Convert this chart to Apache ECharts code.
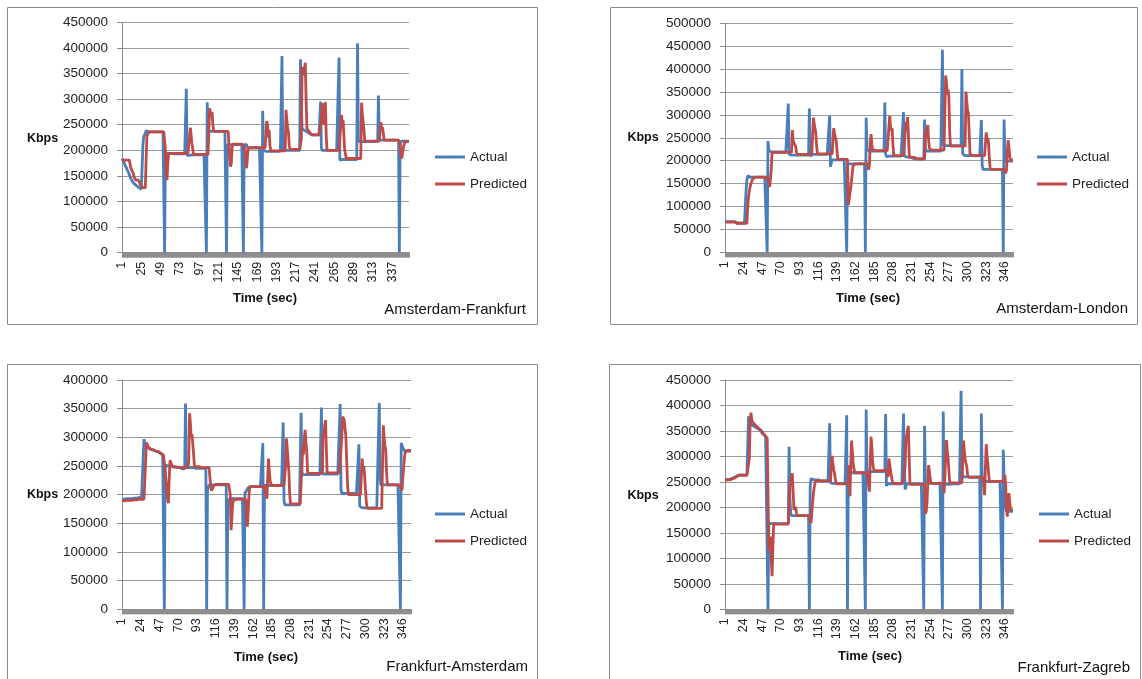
<!DOCTYPE html>
<html>
<head>
<meta charset="utf-8">
<script src="https://cdn.jsdelivr.net/npm/echarts@6/dist/echarts.min.js"></script>
<style>
html,body{margin:0;padding:0;background:#fff}
#chart{width:1142px;height:679px}
</style>
</head>
<body>
<div id="chart"></div>
<script>
// Throughput samples, one per second, in thousands of Kbps.

const amsFraActual = [
184,181,178,174,170,167,164,161,157,153,
149,145,142,139,137,135,133,132,131,130,
129,127,126,125,124,122,210,226,230,234,
238,240,236,236,236,236,236,236,236,236,
236,236,236,236,236,236,236,236,236,236,
236,236,236,0,195,194,194,194,194,194,
194,194,194,194,194,193,193,193,193,193,
193,193,193,193,193,193,193,193,193,193,
320,190,188,188,190,191,191,191,191,191,
191,191,191,191,191,191,191,191,191,191,
191,191,191,191,191,0,294,240,237,237,
237,237,237,237,237,237,237,237,237,237,
237,237,237,237,237,237,237,237,237,237,
0,211,211,211,211,211,211,211,211,211,
211,211,211,211,211,211,211,211,211,211,
211,0,211,211,211,211,205,205,205,205,
205,205,205,205,205,205,205,205,205,205,
205,205,205,205,0,277,200,198,198,198,
198,198,198,198,198,198,198,198,198,198,
198,198,198,198,198,198,198,198,198,384,
201,200,200,200,200,200,200,200,200,200,
200,200,200,200,200,200,200,200,200,200,
200,200,378,300,242,241,240,239,238,237,
236,235,234,233,232,231,230,230,230,230,
230,230,230,230,230,230,230,295,205,200,
200,200,200,200,200,200,200,200,200,200,
200,200,200,200,200,200,200,200,200,200,
381,181,182,182,182,182,182,182,182,182,
182,182,182,182,182,182,182,182,182,182,
182,182,182,409,218,217,217,217,217,217,
217,217,217,217,217,217,217,217,217,217,
217,217,217,217,217,217,217,217,217,307,
220,220,220,220,220,220,220,220,220,220,
220,220,220,220,220,220,220,220,220,220,
220,220,220,220,220,0,210,218,218,218,
218,218,218,218,218,218,218,218
];

const amsFraPredicted = [
181,181,181,181,181,181,181,181,181,181,
181,165,165,165,155,148,148,142,142,142,
142,142,137,132,132,132,127,127,127,127,
180,228,232,234,236,236,236,236,236,236,
236,236,236,236,236,236,236,236,236,236,
236,236,236,236,200,158,142,175,194,194,
194,194,194,194,194,194,194,194,194,194,
194,194,194,194,194,194,194,194,194,194,
194,194,194,194,194,244,230,213,213,192,
192,192,192,192,192,192,192,192,192,192,
192,192,192,192,192,192,192,192,192,282,
272,266,275,250,237,237,237,237,237,237,
237,237,237,237,237,237,237,237,237,237,
237,237,237,210,185,168,175,205,212,212,
212,212,212,212,212,212,212,212,212,212,
212,212,212,200,178,165,185,205,205,205,
205,205,205,205,205,205,205,205,205,205,
205,205,205,205,205,205,205,205,205,205,
257,250,225,240,210,199,199,199,199,199,
199,199,199,199,199,199,199,199,199,199,
199,199,199,199,279,260,245,236,210,202,
202,202,202,202,202,202,202,202,202,202,
202,202,202,220,363,352,347,360,371,300,
243,240,238,236,234,232,230,230,230,230,
230,230,230,230,230,230,230,230,260,292,
270,250,280,294,230,200,200,200,200,200,
200,200,200,200,200,200,200,200,200,200,
200,200,200,269,250,259,230,200,200,184,
184,184,184,184,184,184,184,184,184,184,
184,184,184,184,184,184,184,184,293,270,
256,240,218,218,218,218,218,218,218,218,
218,218,218,218,218,218,218,218,218,218,
218,218,255,240,245,235,220,220,220,220,
220,220,220,220,220,220,220,220,220,220,
220,220,220,220,220,220,210,190,184,195,
205,212,217,217,217,217,217,217
];

const amsLonActual = [
67,67,67,67,67,67,67,67,67,67,
67,67,67,64,64,64,64,64,64,64,
64,64,64,64,64,64,136,158,167,164,
164,164,164,164,164,164,164,164,164,164,
164,164,164,164,164,164,164,164,164,164,
164,164,0,243,223,219,219,219,219,219,
219,219,219,219,219,219,219,219,219,219,
219,219,219,219,219,219,219,219,325,214,
212,212,212,212,212,212,212,212,212,212,
212,212,212,212,212,212,212,212,212,212,
212,212,212,212,314,210,214,214,214,214,
214,214,214,214,214,214,214,214,214,214,
214,214,214,214,214,214,214,214,214,298,
187,195,202,202,202,202,202,202,202,202,
202,202,202,202,202,202,202,202,202,202,
0,194,193,193,193,193,193,193,193,193,
193,193,193,193,193,193,193,193,193,193,
193,193,193,0,294,225,221,221,221,221,
221,221,221,221,221,221,221,221,221,221,
221,221,221,221,221,221,221,327,215,209,
210,210,210,210,210,210,210,210,210,210,
210,210,210,210,210,210,210,210,210,210,
306,211,208,208,208,208,208,208,208,208,
208,204,204,204,204,204,204,204,204,204,
204,204,204,204,204,204,290,230,221,221,
221,221,221,221,221,221,221,221,221,221,
221,221,221,221,221,221,221,221,442,240,
233,233,233,233,233,233,233,233,233,233,
233,233,233,233,233,233,233,233,233,233,
233,233,400,215,211,211,211,211,211,211,
211,211,211,211,211,211,211,211,211,211,
211,211,211,211,211,211,289,190,181,181,
181,181,181,181,181,181,181,181,181,181,
181,181,181,181,181,181,181,181,181,181,
181,181,181,0,290,210,199,199,199,199,
199,199,199,199,199,199
];

const amsLonPredicted = [
66,66,66,66,66,66,66,66,66,66,
66,66,66,63,63,63,63,63,63,63,
63,63,63,63,63,63,63,63,100,121,
135,143,150,154,160,164,164,164,164,164,
164,164,164,164,164,164,164,164,164,164,
164,164,164,164,164,143,146,180,218,218,
218,218,218,218,218,218,218,218,218,218,
218,218,218,218,218,218,218,218,218,218,
218,218,218,267,245,238,234,232,220,214,
214,214,214,214,214,214,214,214,214,214,
214,214,214,214,214,214,214,214,214,294,
280,270,260,230,215,215,215,215,215,215,
215,215,215,215,215,215,215,215,215,215,
215,215,215,215,271,260,250,245,225,203,
203,203,203,203,203,203,203,203,203,203,
203,203,103,115,129,140,158,175,191,193,
193,193,193,193,193,193,193,193,193,193,
193,193,193,193,193,193,193,180,190,240,
258,235,225,222,222,222,222,222,222,222,
222,222,222,222,222,222,222,222,222,222,
222,222,222,298,275,265,271,235,211,211,
211,211,211,211,211,211,211,211,211,211,
211,211,211,285,275,295,260,215,207,207,
207,207,207,207,207,207,204,204,204,204,
204,204,204,204,204,204,204,264,250,270,
278,245,227,223,223,223,223,223,223,223,
223,223,223,223,223,223,223,223,223,223,
223,223,386,370,345,355,338,260,232,232,
232,232,232,232,232,232,232,232,232,232,
232,232,232,232,232,232,232,351,330,310,
304,260,215,211,211,211,211,211,211,211,
211,211,211,211,211,211,211,211,211,211,
211,211,262,245,250,234,200,181,181,181,
181,181,181,181,181,181,181,181,181,181,
181,181,181,181,181,181,172,180,220,245,
230,210,201,201,201,201
];

const fraAmsActual = [
191,192,192,192,192,192,193,193,193,193,
193,193,193,194,194,194,194,194,194,194,
194,195,195,195,195,195,195,297,290,285,
284,283,282,281,280,279,279,278,278,277,
277,276,276,275,275,274,273,272,271,270,
269,268,0,252,251,251,250,250,250,250,
250,249,249,249,249,249,249,247,247,247,
247,247,245,245,245,245,245,245,359,250,
247,247,247,247,247,247,247,247,247,247,
247,246,246,246,246,246,246,246,246,246,
246,246,246,246,0,208,212,217,217,217,
217,217,217,217,217,217,217,217,217,217,
217,217,217,217,217,217,217,217,217,0,
190,193,193,193,193,193,193,193,193,193,
193,193,193,193,193,193,193,193,193,193,
0,203,205,207,210,212,214,214,214,214,
214,214,214,214,214,214,214,214,214,214,
214,214,214,290,0,216,216,216,216,216,
216,216,216,216,216,216,216,216,216,216,
216,216,216,216,216,216,216,216,326,190,
182,182,182,182,182,182,182,182,182,182,
182,182,182,182,182,182,182,182,182,182,
343,240,235,235,235,235,235,235,235,235,
235,235,235,235,235,235,235,235,235,235,
235,235,235,235,235,352,240,236,236,236,
236,236,236,236,236,236,236,236,236,236,
236,236,236,236,236,236,236,236,358,210,
202,202,202,202,202,202,202,202,202,202,
202,202,202,202,202,202,202,202,202,202,
202,288,180,177,177,177,177,177,177,177,
177,177,177,177,177,177,177,177,177,177,
177,177,177,177,177,177,360,230,217,217,
217,217,217,217,217,217,217,217,217,217,
217,217,217,217,217,217,217,217,217,217,
217,217,0,290,288,282,278,276,276,276,
276,276,276,276,276,276
];

const fraAmsPredicted = [
189,189,189,189,189,189,190,190,190,190,
190,190,190,191,191,191,191,191,191,191,
192,192,192,192,192,192,192,192,192,192,
291,287,284,282,281,280,279,279,278,278,
277,277,276,276,275,275,274,273,272,271,
270,269,268,267,226,205,192,185,230,260,
256,252,249,248,248,248,248,248,248,248,
248,247,247,247,247,247,247,247,247,247,
247,247,260,342,325,301,305,307,270,249,
249,249,249,249,249,249,249,247,247,247,
247,247,247,247,247,247,247,247,230,215,
207,207,210,216,218,218,218,218,218,218,
218,218,218,218,218,218,218,218,218,218,
218,218,218,200,138,160,185,190,192,192,
192,192,192,192,192,192,192,192,192,192,
192,192,192,192,144,170,200,214,214,214,
214,214,214,214,214,214,214,214,214,214,
214,214,214,214,214,214,214,200,193,230,
263,240,223,225,216,216,216,216,216,216,
216,216,216,216,216,216,216,216,216,216,
216,250,298,280,260,240,200,184,184,184,
184,184,184,184,184,184,184,184,184,184,
184,184,284,270,300,313,290,275,237,237,
237,237,237,237,237,237,237,237,237,237,
237,237,237,237,237,237,237,307,300,320,
330,280,238,238,238,238,238,238,238,238,
238,238,238,238,238,238,238,238,238,238,
300,336,335,330,315,301,260,220,200,200,
200,200,200,200,200,200,200,200,200,200,
200,200,200,200,200,263,245,250,234,210,
190,176,176,176,176,176,176,176,176,176,
176,176,176,176,176,176,176,176,176,176,
176,321,300,285,278,240,217,217,217,217,
217,217,217,217,217,217,217,217,217,217,
217,217,217,217,208,230,249,265,275,277,
277,277,277,277,277,277
];

const fraZagActual = [
254,254,254,255,255,255,255,257,257,257,
259,259,259,262,262,262,262,262,264,264,
264,264,264,264,264,264,264,264,264,379,
370,366,362,362,361,360,359,358,357,356,
355,354,353,352,352,350,348,346,344,341,
339,337,336,0,169,168,168,168,168,168,
168,168,168,168,168,168,168,168,168,168,
168,168,168,168,168,168,168,168,168,319,
220,188,184,184,184,184,184,184,184,184,
184,184,184,184,184,184,184,184,184,184,
184,184,184,184,0,240,257,254,254,254,
254,254,254,254,254,254,252,252,252,252,
252,252,252,252,252,252,252,252,252,365,
248,247,247,247,247,247,247,247,247,247,
247,247,247,247,247,247,247,247,247,247,
381,0,268,268,268,268,268,268,268,268,
268,268,268,268,268,268,268,268,268,268,
268,268,268,0,392,275,270,270,270,270,
270,270,270,270,270,270,270,270,270,270,
270,270,270,270,270,270,270,270,383,242,
246,246,246,246,246,246,246,246,246,246,
246,246,246,246,246,246,246,246,246,246,
384,300,235,235,246,246,246,246,246,246,
246,246,246,246,246,246,246,246,246,246,
246,246,246,246,246,0,360,250,247,247,
247,247,247,247,247,247,247,247,247,247,
247,247,247,247,247,247,247,247,0,388,
250,245,245,245,245,245,245,245,245,245,
246,246,246,246,246,246,246,246,246,246,
246,429,270,260,260,260,260,260,260,260,
260,260,260,260,260,260,260,260,260,260,
260,260,260,260,260,0,384,255,251,251,
251,251,251,251,251,251,251,251,251,251,
251,251,251,251,251,251,251,251,251,251,
251,251,0,313,260,230,200,192,192,192,
192,192,192,192,192,192
];

const fraZagPredicted = [
253,253,253,254,254,254,254,256,256,256,
258,258,258,261,261,261,261,261,263,263,
263,263,263,263,263,263,263,263,263,263,
296,370,386,372,368,366,364,362,360,359,
357,356,355,353,351,348,345,344,342,341,
339,338,336,336,116,130,143,100,65,120,
169,167,167,167,167,167,167,167,167,167,
167,167,167,167,167,167,167,167,167,167,
241,250,260,267,230,195,198,201,190,184,
184,184,184,184,184,184,184,184,184,184,
184,184,184,184,184,184,169,190,210,228,
240,248,252,252,252,252,252,252,252,252,
252,252,252,252,252,252,252,252,252,252,
252,252,301,285,275,267,255,246,246,246,
246,246,246,246,246,246,246,246,246,246,
246,246,246,283,222,280,331,310,286,275,
268,268,268,268,268,268,268,268,268,268,
268,268,268,268,268,268,268,268,231,290,
339,320,290,277,272,272,272,272,272,272,
272,272,272,272,272,272,272,272,272,272,
272,260,296,285,273,262,254,247,247,247,
247,247,247,247,247,247,247,247,247,247,
247,247,280,336,340,352,360,300,245,245,
245,245,245,245,245,245,245,245,245,245,
245,245,245,245,245,245,245,188,192,208,
250,283,270,255,247,247,247,247,247,247,
247,247,247,247,247,247,247,247,247,247,
228,260,300,332,310,296,270,248,248,248,
248,248,248,248,248,248,248,248,248,248,
248,248,248,248,331,310,295,287,280,265,
259,259,259,259,259,259,259,259,259,259,
259,259,259,259,259,259,259,259,259,259,
224,280,324,300,287,265,250,251,251,251,
251,251,251,251,251,251,251,251,251,251,
251,251,251,251,251,264,240,200,182,210,
228,210,195,195,195,195
];

// Route captions and vertical axis tops
const routes = ['Amsterdam-Frankfurt', 'Amsterdam-London', 'Frankfurt-Amsterdam', 'Frankfurt-Zagreb'];
const yMaxima = [450000, 500000, 400000, 450000];
const labelSteps = [24, 23, 23, 23];
const actualSets = [amsFraActual, amsLonActual, fraAmsActual, fraZagActual];
const predictedSets = [amsFraPredicted, amsLonPredicted, fraAmsPredicted, fraZagPredicted];

const FONT = '"Liberation Sans", Arial, sans-serif';
const BLUE = '#4A7EBB';
const RED = '#BE4B48';

// Layout of the four framed panels
const layout = [
  { grid: { left: 122, top: 22.3, width: 287, height: 230.4 }, box: [7.5, 7.5, 530, 317], legend: [430, 144], kbps: [42.5, 139], time: [265, 298], caption: [526, 310] },
  { grid: { left: 725, top: 23.3, width: 288, height: 229 }, box: [610.5, 7.5, 527, 317], legend: [1032, 144], kbps: [643, 138], time: [868, 298], caption: [1128, 309] },
  { grid: { left: 122, top: 380, width: 289, height: 229.3 }, box: [7.5, 364.5, 530, 330], legend: [430, 501], kbps: [42.5, 495], time: [266, 657], caption: [528, 667] },
  { grid: { left: 725, top: 380, width: 288, height: 229.3 }, box: [609.5, 364.5, 531, 330], legend: [1034, 501], kbps: [643, 496], time: [870, 656], caption: [1130, 668] }
];

const grids = [], xAxes = [], yAxes = [], series = [], legends = [], graphics = [];

routes.forEach((route, k) => {
  const L = layout[k];
  const actual = actualSets[k];
  const predicted = predictedSets[k];
  const categories = actual.map((_, i) => String(i + 1));

  grids.push(Object.assign({ containLabel: false }, L.grid));

  // one tick per second; at this density they merge into a grey band under the axis
  xAxes.push({
    type: 'category',
    gridIndex: k,
    data: categories,
    boundaryGap: false,
    axisLine: { show: true, lineStyle: { color: '#8c8c8c', width: 1 } },
    axisTick: { show: true, interval: 0, length: 5, lineStyle: { color: '#8e8e8e', width: 1 } },
    splitLine: { show: false },
    axisLabel: {
      interval: labelSteps[k] - 1,
      rotate: 90,
      margin: 9,
      fontSize: 12.5,
      fontFamily: FONT,
      color: '#222'
    }
  });

  yAxes.push({
    type: 'value',
    gridIndex: k,
    min: 0,
    max: yMaxima[k],
    interval: 50000,
    axisLine: { show: true, lineStyle: { color: '#8c8c8c', width: 1 } },
    axisTick: { show: true, length: 5, lineStyle: { color: '#8c8c8c' } },
    splitLine: { show: true, lineStyle: { color: '#9a9a9a', width: 1 } },
    axisLabel: {
      margin: 14,
      fontSize: 13.5,
      fontFamily: FONT,
      color: '#222',
      formatter: v => String(v)
    }
  });

  series.push({
    name: 'Actual',
    type: 'line',
    xAxisIndex: k,
    yAxisIndex: k,
    data: actual.map(v => v * 1000),
    showSymbol: false,
    symbol: 'none',
    lineStyle: { color: BLUE, width: 2.8 },
    itemStyle: { color: BLUE },
    z: 2
  });
  series.push({
    name: 'Predicted',
    type: 'line',
    xAxisIndex: k,
    yAxisIndex: k,
    data: predicted.map(v => v * 1000),
    showSymbol: false,
    symbol: 'none',
    lineStyle: { color: RED, width: 2.8 },
    itemStyle: { color: RED },
    z: 3
  });

  legends.push({
    data: ['Actual', 'Predicted'],
    orient: 'vertical',
    left: L.legend[0],
    top: L.legend[1],
    icon: 'rect',
    itemWidth: 30,
    itemHeight: 3,
    itemGap: 11,
    selectedMode: false,
    textStyle: { fontSize: 13.5, fontFamily: FONT, color: '#222', lineHeight: 16 }
  });

  graphics.push({
    type: 'rect',
    silent: true,
    shape: { x: L.box[0], y: L.box[1], width: L.box[2], height: L.box[3] },
    style: { fill: 'none', stroke: '#8a8a8a', lineWidth: 1 }
  });
  graphics.push({
    type: 'text',
    silent: true,
    style: { x: L.kbps[0], y: L.kbps[1], text: 'Kbps', font: 'bold 12.5px ' + FONT, fill: '#111', textAlign: 'center', textVerticalAlign: 'middle' }
  });
  graphics.push({
    type: 'text',
    silent: true,
    style: { x: L.time[0], y: L.time[1], text: 'Time (sec)', font: 'bold 13px ' + FONT, fill: '#111', textAlign: 'center', textVerticalAlign: 'middle' }
  });
  graphics.push({
    type: 'text',
    silent: true,
    style: { x: L.caption[0], y: L.caption[1], text: route, font: '15px ' + FONT, fill: '#111', textAlign: 'right', textVerticalAlign: 'middle' }
  });
});

const chart = echarts.init(document.getElementById('chart'), null, { renderer: 'canvas' });
chart.setOption({
  animation: false,
  backgroundColor: '#ffffff',
  textStyle: { fontFamily: FONT },
  grid: grids,
  xAxis: xAxes,
  yAxis: yAxes,
  legend: legends,
  series: series,
  graphic: graphics
});
</script>
</body>
</html>
